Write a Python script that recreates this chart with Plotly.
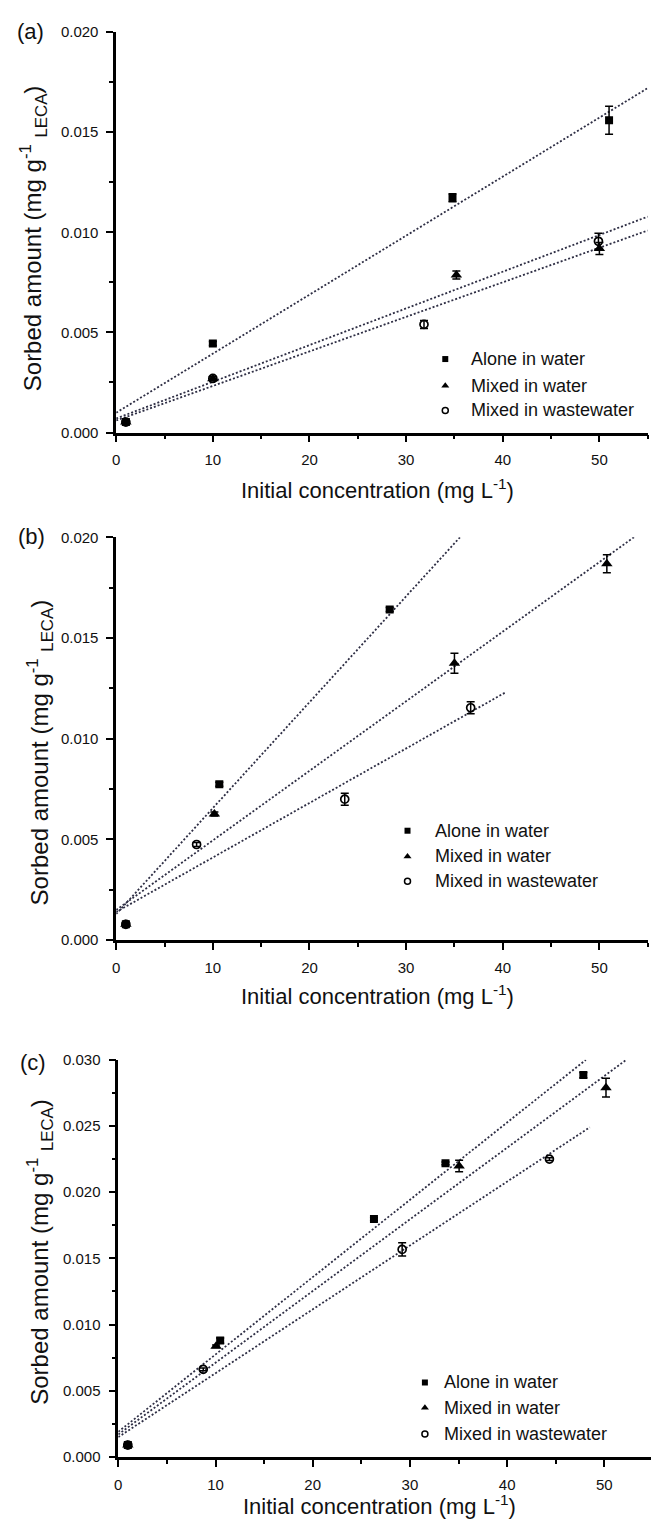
import plotly.graph_objects as go

W, H = 651, 1523
FONT = "Liberation Sans, Arial, sans-serif"

# ---------------- data: panel (a) ----------------
a_alone_x = [1.0, 10.0, 34.8, 51.0]
a_alone_y = [0.00052, 0.00444, 0.01172, 0.0156]
a_alone_e = [0.00005, 0.0001, 0.0002, 0.0007]
a_water_x = [1.0, 10.0, 35.2, 50.0]
a_water_y = [0.00052, 0.00268, 0.00787, 0.00919]
a_water_e = [0.00005, 0.0001, 0.0002, 0.0003]
a_waste_x = [1.0, 10.0, 31.85, 49.9]
a_waste_y = [0.00052, 0.0027, 0.0054, 0.00955]
a_waste_e = [0.00005, 0.0001, 0.0002, 0.0004]
a_fit_alone = ([0, 55], [0.00099, 0.0172])
a_fit_water = ([0, 55], [0.0007, 0.01078])
a_fit_waste = ([0, 55], [0.0006, 0.01009])

# ---------------- data: panel (b) ----------------
b_alone_x = [1.0, 10.67, 28.3]
b_alone_y = [0.00079, 0.00774, 0.01642]
b_alone_e = [0.00005, 0.0001, 0.0001]
b_water_x = [1.0, 10.16, 35.0, 50.77]
b_water_y = [0.00079, 0.00627, 0.01375, 0.01869]
b_water_e = [0.00005, 0.0001, 0.0005, 0.00045]
b_waste_x = [1.0, 8.32, 23.65, 36.68]
b_waste_y = [0.00079, 0.00475, 0.0070, 0.01154]
b_waste_e = [0.00005, 0.0001, 0.0003, 0.0003]
b_fit_alone = ([0, 35.57], [0.0013, 0.020])
b_fit_water = ([0, 53.7], [0.0015, 0.02005])
b_fit_waste = ([0, 40.35], [0.0014, 0.01232])

# ---------------- data: panel (c) ----------------
c_alone_x = [0.98, 10.48, 26.3, 33.66, 47.84]
c_alone_y = [0.0009, 0.00879, 0.01797, 0.02218, 0.02885]
c_alone_e = [0.00005, 0.0002, 0.0001, 0.0001, 0.0002]
c_water_x = [0.98, 10.06, 35.06, 50.17]
c_water_y = [0.0009, 0.00836, 0.02198, 0.0279]
c_water_e = [0.00005, 0.0001, 0.00043, 0.0007]
c_waste_x = [0.98, 8.74, 29.2, 44.35]
c_waste_y = [0.0009, 0.00662, 0.01568, 0.0225]
c_waste_e = [0.00005, 0.0001, 0.0005, 0.0001]
c_fit_alone = ([0, 48.1], [0.0019, 0.030])
c_fit_water = ([0, 52.25], [0.0017, 0.030])
c_fit_waste = ([0, 48.5], [0.0015, 0.0249])

series_names = ["Alone in water", "Mixed in water", "Mixed in wastewater"]

panels = [
    dict(xa="x", ya="y",
         pts=[(a_alone_x, a_alone_y, a_alone_e), (a_water_x, a_water_y, a_water_e), (a_waste_x, a_waste_y, a_waste_e)],
         fits=[a_fit_alone, a_fit_water, a_fit_waste]),
    dict(xa="x2", ya="y2",
         pts=[(b_alone_x, b_alone_y, b_alone_e), (b_water_x, b_water_y, b_water_e), (b_waste_x, b_waste_y, b_waste_e)],
         fits=[b_fit_alone, b_fit_water, b_fit_waste]),
    dict(xa="x3", ya="y3",
         pts=[(c_alone_x, c_alone_y, c_alone_e), (c_water_x, c_water_y, c_water_e), (c_waste_x, c_waste_y, c_waste_e)],
         fits=[c_fit_alone, c_fit_water, c_fit_waste]),
]

markers = [
    dict(symbol="square", size=8, color="black"),
    dict(symbol="triangle-up", size=10, color="black"),
    dict(symbol="circle-open", size=8, color="black", line=dict(width=1.7, color="black")),
]
legend_markers = [
    dict(symbol="square", size=6, color="black"),
    dict(symbol="triangle-up", size=7, color="black"),
    dict(symbol="circle-open", size=6, color="black", line=dict(width=1.5, color="black")),
]

fig = go.Figure()
for p in panels:
    for fx, fy in p["fits"]:
        fig.add_trace(go.Scatter(x=fx, y=fy, mode="lines", xaxis=p["xa"], yaxis=p["ya"],
                                 line=dict(color="#2e2e44", width=1.8, dash="2px,2px"),
                                 showlegend=False, hoverinfo="skip"))
    for i, (px, py, pe) in enumerate(p["pts"]):
        fig.add_trace(go.Scatter(x=px, y=py, mode="markers", name=series_names[i],
                                 xaxis=p["xa"], yaxis=p["ya"], showlegend=False,
                                 marker=markers[i],
                                 error_y=dict(type="data", array=pe, visible=True,
                                              color="black", thickness=1.5, width=4)))

# ---- per-panel legends (key symbols on a page-pixel overlay axis, labels as text) ----
legend_layout = [  # (symbol x px, text x px, row y px list)
    (444, 468, [354, 381, 406]),
    (406, 432, [831, 857, 882]),
    (423.5, 441, [1389, 1414.5, 1441]),
]
ann = []
for sx, tx, rows in legend_layout:
    for i, ry in enumerate(rows):
        fig.add_trace(go.Scatter(x=[sx], y=[ry], mode="markers", xaxis="x4", yaxis="y4",
                                 marker=legend_markers[i], showlegend=False, hoverinfo="skip"))
        ann.append(dict(text=series_names[i], x=tx / W, y=1 - ry / H, xref="paper", yref="paper",
                        showarrow=False, xanchor="left", yanchor="middle",
                        font=dict(family=FONT, size=18, color="#111")))

def px2x(px):
    return px / W

def py2y(py):
    return 1 - py / H

axis_common = dict(showline=True, linewidth=2.5, linecolor="black", ticks="outside",
                   ticklen=7, tickwidth=2, tickcolor="black", showgrid=False, zeroline=False,
                   tickfont=dict(family=FONT, size=15, color="#111"), ticklabelstandoff=5)

xdom_ab = [px2x(112.9), px2x(647.7)]
xdom_c = [px2x(115.0), 1.0]

def xminor():
    return dict(ticks="outside", ticklen=4, tickwidth=2, dtick=5, tickcolor="black")

def yminor():
    return dict(ticks="outside", ticklen=4, tickwidth=2, dtick=0.0025, tickcolor="black")

fig.update_layout(
    width=W, height=H, margin=dict(l=0, r=0, t=0, b=0),
    paper_bgcolor="white", plot_bgcolor="rgba(0,0,0,0)",
    font=dict(family=FONT, color="#111"),
    showlegend=False,
    xaxis=dict(domain=xdom_ab, range=[0, 55], dtick=10, anchor="y", minor=xminor(), **axis_common),
    yaxis=dict(domain=[py2y(428.3), py2y(23.3)], range=[0, 0.020], dtick=0.005, tickformat=".3f",
               anchor="x", minor=yminor(), **axis_common),
    xaxis2=dict(domain=xdom_ab, range=[0, 55], dtick=10, anchor="y2", minor=xminor(), **axis_common),
    yaxis2=dict(domain=[py2y(941.7), py2y(534.3)], range=[0, 0.020], dtick=0.005, tickformat=".3f",
                anchor="x2", minor=yminor(), **axis_common),
    xaxis3=dict(domain=xdom_c, range=[0, 54.8], dtick=10, anchor="y3", minor=xminor(), **axis_common),
    yaxis3=dict(domain=[py2y(1464.3), py2y(1062.7)], range=[0, 0.030], dtick=0.005, tickformat=".3f",
                anchor="x3", minor=yminor(), **axis_common),
    xaxis4=dict(domain=[0, 1], range=[0, W], visible=False, anchor="y4", fixedrange=True),
    yaxis4=dict(domain=[0, 1], range=[H, 0], visible=False, anchor="x4", fixedrange=True),
)

xtitle = "Initial concentration (mg L<sup>-1</sup>)"
ytitle = "Sorbed amount (mg g<sup>-1</sup> <sub>LECA</sub>)"
for lab, lx, ly in [("(a)", 27, 23), ("(b)", 28, 533), ("(c)", 29, 1065)]:
    ann.append(dict(text=lab, x=px2x(lx), y=py2y(ly), xref="paper", yref="paper", showarrow=False,
                    xanchor="center", yanchor="middle", font=dict(family=FONT, size=22, color="#111")))
for tx, ty in [(376, 485), (376, 997), (378, 1513)]:
    ann.append(dict(text=xtitle, x=px2x(tx), y=py2y(ty), xref="paper", yref="paper", showarrow=False,
                    xanchor="center", yanchor="middle", font=dict(family=FONT, size=22, color="#111")))
for tx, ty in [(30, 232), (36, 752), (36, 1257)]:
    ann.append(dict(text=ytitle, x=px2x(tx), y=py2y(ty), xref="paper", yref="paper", showarrow=False,
                    textangle=-90, xanchor="center", yanchor="middle",
                    font=dict(family=FONT, size=24, color="#111")))
fig.update_layout(annotations=ann)

fig.write_html("out.html")
